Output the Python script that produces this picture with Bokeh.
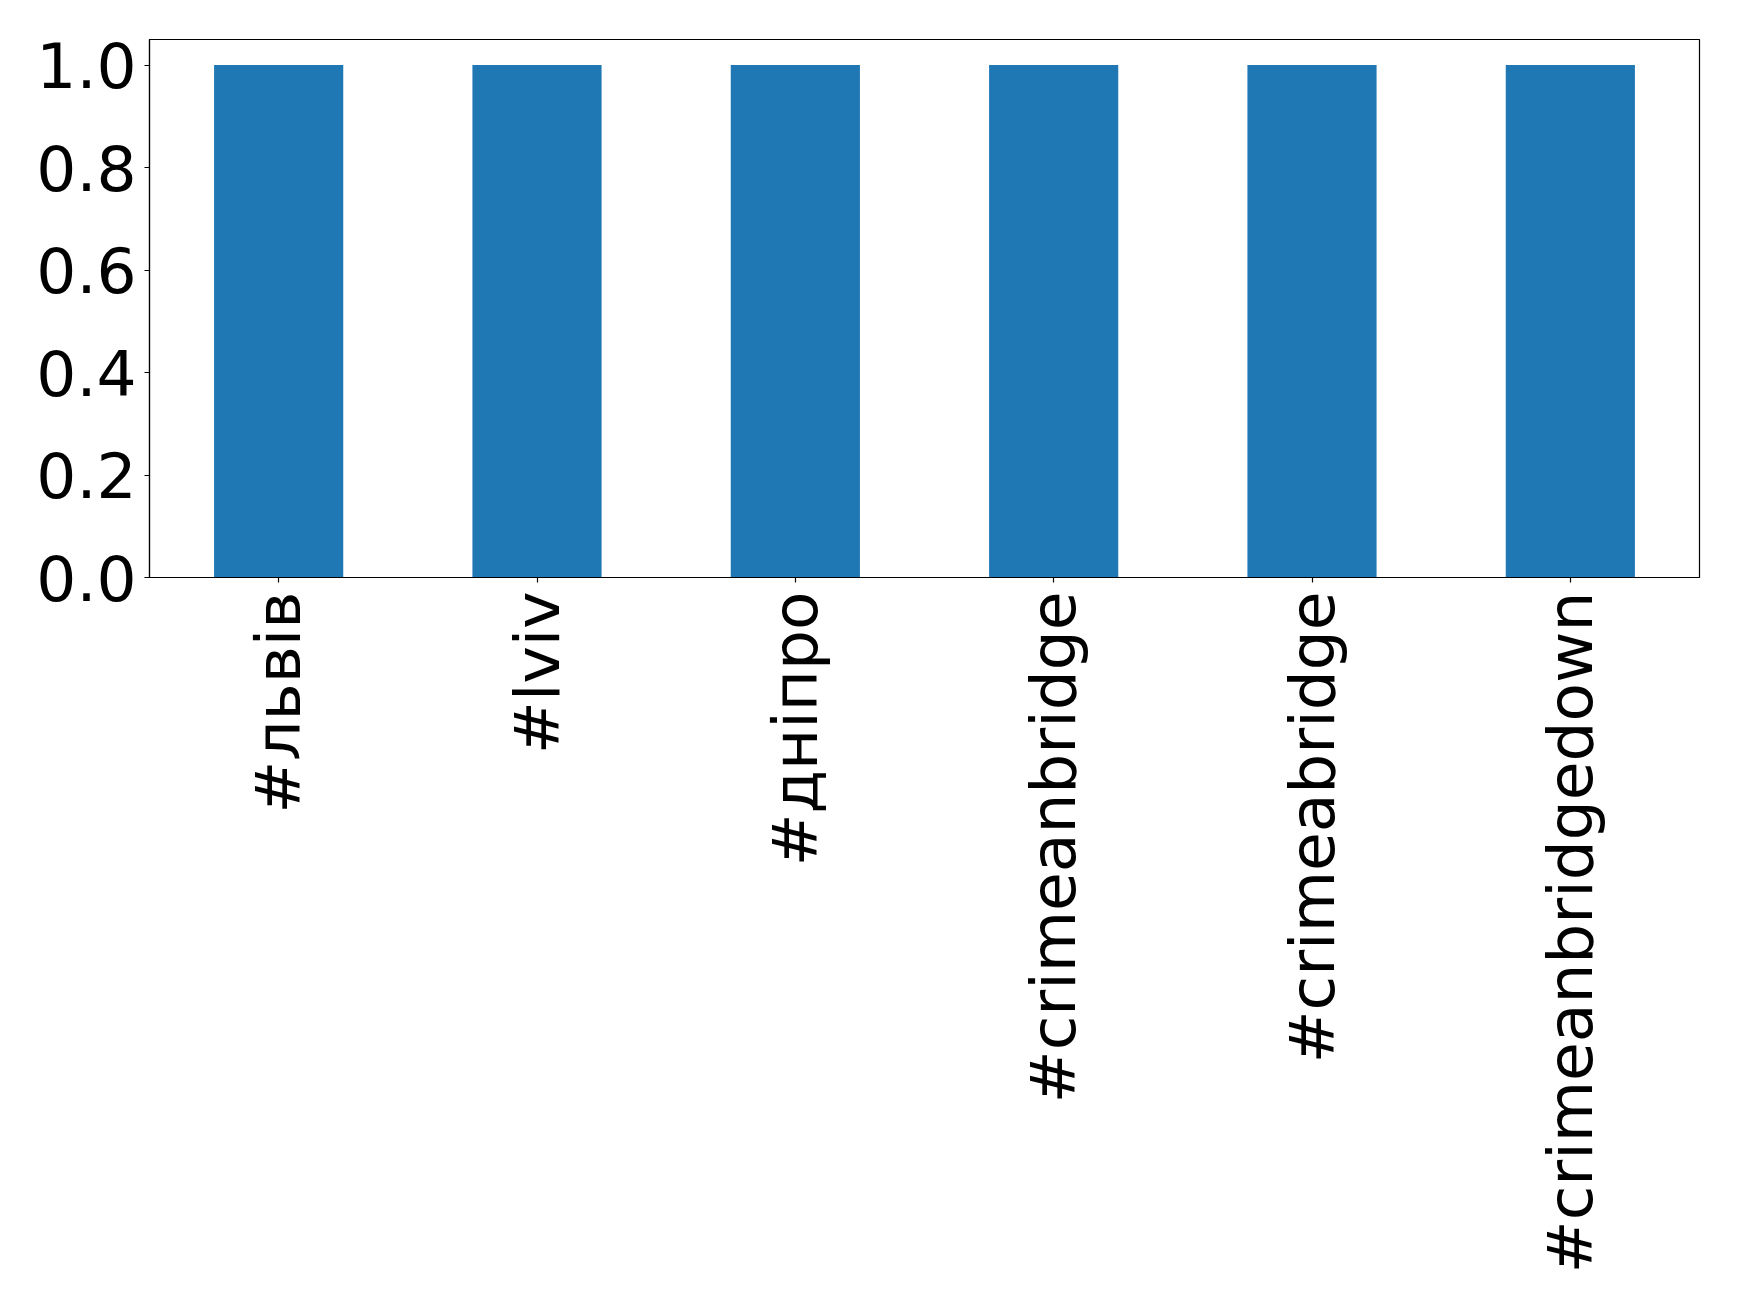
from bokeh.plotting import figure
from bokeh.models import FactorRange, Range1d, FixedTicker, PrintfTickFormatter
from bokeh.embed import file_html
from bokeh.resources import INLINE
import math

categories = ["#львів", "#lviv", "#дніпро", "#crimeanbridge", "#crimeabridge", "#crimeanbridgedown"]
values = [1, 1, 1, 1, 1, 1]
y_ticks = [0.0, 0.2, 0.4, 0.6, 0.8, 1.0]

FONT = "DejaVu Sans"

p = figure(
    width=1731, height=1288,
    x_range=FactorRange(factors=categories, range_padding=0),
    y_range=Range1d(0, 1.05),
    output_backend="svg", toolbar_location=None,
    min_border_left=149, min_border_right=32, min_border_top=39, min_border_bottom=711,
)
p.vbar(x=categories, top=values, width=0.5, color="#1f77b4", line_color=None)

p.xgrid.visible = False
p.ygrid.visible = False
p.outline_line_color = "black"
p.outline_line_width = 1.2
p.background_fill_color = "white"
p.border_fill_color = "white"

p.yaxis.ticker = FixedTicker(ticks=y_ticks)
p.yaxis.formatter = PrintfTickFormatter(format="%.1f")
p.yaxis.minor_tick_line_color = None

for ax in (p.xaxis[0], p.yaxis[0]):
    ax.major_label_text_font = FONT
    ax.major_label_text_font_size = "63px"
    ax.major_label_text_color = "black"
    ax.axis_line_color = "black"
    ax.axis_line_width = 1.2
    ax.major_tick_line_color = "black"
    ax.major_tick_line_width = 1.2
    ax.major_tick_out = 5
    ax.major_tick_in = 0

p.yaxis.major_label_standoff = 8
p.xaxis.major_label_standoff = 9
p.xaxis.major_label_orientation = math.pi / 2
p.xaxis.group_text_font_size = "0px"

open("out.html", "w").write(file_html(p, INLINE))
